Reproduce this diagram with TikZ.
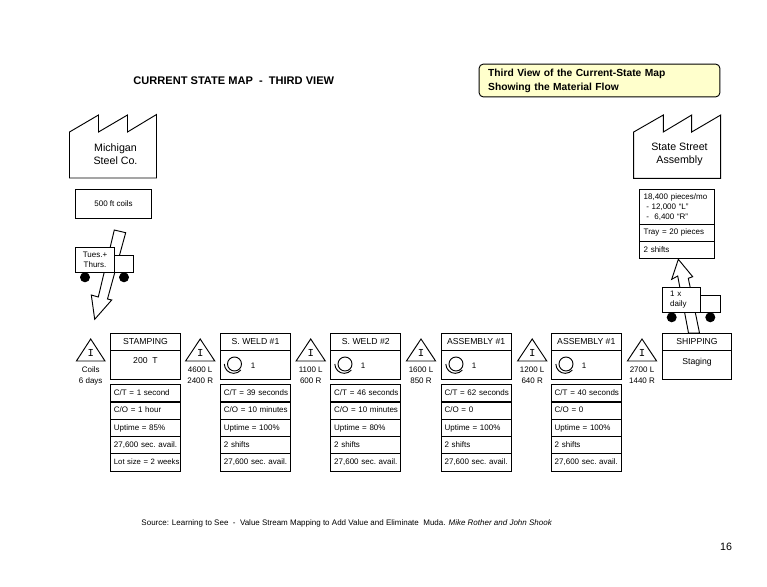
\documentclass[tikz,border=0pt]{standalone}
\usepackage{fontspec}
\setmainfont{Liberation Sans}
\setmonofont{Liberation Mono}
\definecolor{noteyellow}{RGB}{255,255,204}
\usetikzlibrary{positioning}
\tikzstyle{headbox} = [draw, minimum width=52.5pt, minimum height=12.5pt, inner sep=0pt, text height=4.6pt, text depth=1pt, font=\fontsize{6.5}{7.5}\selectfont]
\tikzstyle{bodybox} = [draw, minimum width=52.5pt, minimum height=21.7pt, inner sep=0pt]
\tikzstyle{databox} = [draw, minimum width=52.5pt, minimum height=13pt, inner sep=0pt, text width=52pt, text height=4.4pt, text depth=1.2pt, align=left, execute at begin node=\hspace*{2.3pt}, font=\frenchspacing\fontsize{6}{7}\selectfont]
\tikzstyle{custbox} = [draw, minimum width=56.5pt, inner sep=0pt, text width=50pt, align=left, font=\fontsize{6}{7.5}\selectfont]
\tikzstyle{tag} = [inner sep=0pt, align=center, font=\fontsize{6}{8.2}\selectfont]
\tikzstyle{plant} = [inner sep=0pt, align=center, font=\fontsize{8}{9.8}\selectfont]
\tikzstyle{kanban} = [inner sep=0pt, font=\ttfamily\fontsize{8}{8}\selectfont]
\tikzstyle{opmark} = [draw, circle, minimum size=10.5pt, inner sep=0pt]
\tikzstyle{lorry} = [draw, fill=white, inner sep=0pt]
\begin{document}
\begin{tikzpicture}[x=0.75pt,y=-0.75pt,line width=0.7pt]
  \useasboundingbox (0,0) rectangle (767,586);
  % headings
  \node[inner sep=0pt,anchor=west,font=\bfseries\fontsize{8.3}{10}\selectfont] (maptitle) at (133,81) {CURRENT STATE MAP\ \ -\ \ THIRD VIEW};
  \node[draw,fill=noteyellow,rounded corners=3pt,minimum width=180.5pt,minimum height=24.5pt,inner sep=0pt,text width=167pt,align=left,font=\bfseries\fontsize{7.7}{10.5}\selectfont] (note) at (599.5,80.5) {Third View of the Current-State Map\\Showing the Material Flow};
  % factories
  \draw (69.5,132) -- (98.5,115) -- (98.5,132) -- (127.5,115) -- (127.5,132) -- (156.5,114.5) -- (156.5,178) -- (69.5,178) -- cycle;
  \node[plant] (supplier) at (115.5,154.5) {Michigan\\Steel Co.};
  \draw (633.7,132) -- (663.3,115) -- (663.3,132) -- (691.7,115) -- (691.7,132) -- (720.7,115) -- (720.7,178.3) -- (633.7,178.3) -- cycle;
  \node[plant] (customer) at (679.5,154.5) {State Street\\Assembly};
  % supplier and customer data
  \node[draw,minimum width=57pt,minimum height=21.5pt,inner sep=0pt,font=\fontsize{6}{7}\selectfont] (coils) at (113.5,203.7) {500 ft coils};
  \node[custbox,minimum height=26.25pt] (demand) at (677,206.8) {18,400 pieces/mo\\ \ - 12,000 ``L''\\ \ -\ \ 6,400 ``R''};
  \node[custbox,minimum height=12.5pt] (tray) at (677,232.7) {Tray = 20 pieces};
  \node[custbox,minimum height=13pt] (custshift) at (677,249.7) {2 shifts};
  % material flow arrows
  \draw (114.3,230) -- (125.7,232.7) -- (107.5,299) -- (111.7,300) -- (94.7,319.3) -- (91.3,295) -- (98.3,297) -- cycle;
  \draw (699.5,333) -- (688.5,333) -- (677.7,276) -- (671.7,279.3) -- (678.3,259.3) -- (692.7,276.7) -- (688.3,278.3) -- cycle;
  % trucks
  \node[lorry,minimum width=14pt,minimum height=12.75pt] (inbed) at (124,263.8) {};
  \node[lorry,minimum width=29.5pt,minimum height=18.75pt,align=center,font=\fontsize{6}{7.5}\selectfont] (incab) at (95,259.8) {Tues.+\\Thurs.};
  \fill (85,277.3) circle(3.75pt);
  \fill (124,277.3) circle(3.75pt);
  \node[lorry,minimum width=15pt,minimum height=12.75pt] (outbed) at (710.7,303.8) {};
  \node[lorry,minimum width=28.8pt,minimum height=18.75pt,text width=17pt,align=left,font=\fontsize{6}{7.5}\selectfont] (outcab) at (681.5,299.8) {1 x\\daily};
  \fill (671.7,317.3) circle(3.75pt);
  \fill (710.3,317.3) circle(3.75pt);
  % inventory triangles
  \draw (90.7,339) -- (105,361) -- (76.4,361) -- cycle;
  \node[kanban] (inv1) at (90.7,353) {I};
  \node[tag] (stock1) at (90.7,375.5) {Coils\\6 days};
  \draw (200.2,339) -- (214.8,361) -- (185.6,361) -- cycle;
  \node[kanban] (inv2) at (200.2,353) {I};
  \node[tag] (stock2) at (200.2,375.5) {4600 L\\2400 R};
  \draw (310.7,339) -- (325.3,361) -- (296.1,361) -- cycle;
  \node[kanban] (inv3) at (310.7,353) {I};
  \node[tag] (stock3) at (310.7,375.5) {1100 L\\600 R};
  \draw (421,339) -- (435.6,361) -- (406.4,361) -- cycle;
  \node[kanban] (inv4) at (421,353) {I};
  \node[tag] (stock4) at (421,375.5) {1600 L\\850 R};
  \draw (532.2,339) -- (546.8,361) -- (517.6,361) -- cycle;
  \node[kanban] (inv5) at (532.2,353) {I};
  \node[tag] (stock5) at (532.2,375.5) {1200 L\\640 R};
  \draw (642,339) -- (656.6,361) -- (627.4,361) -- cycle;
  \node[kanban] (inv6) at (642,353) {I};
  \node[tag] (stock6) at (642,375.5) {2700 L\\1440 R};
  % stamping
  \node[headbox] (stamp) at (145.5,342) {STAMPING};
  \node[bodybox] (stampbody) at (145.5,364.8) {};
  \node[inner sep=0pt,font=\fontsize{6.5}{7.5}\selectfont] (press) at (145.5,361) {200\ \ T};
  \node[databox] (stampa) at (145.5,393.3) {C/T = 1 second};
  \node[databox] (stampb) at (145.5,410.6) {C/O = 1 hour};
  \node[databox] (stampc) at (145.5,427.9) {Uptime = 85\%};
  \node[databox] (stampd) at (145.5,445.2) {27,600 sec. avail.};
  \node[databox,font=\frenchspacing\fontsize{5.8}{7}\selectfont] (stampe) at (145.5,462.5) {Lot size = 2 weeks};
  % s. weld 1
  \node[headbox] (weldone) at (255.5,342) {S. WELD \#1};
  \node[bodybox] (weldonebody) at (255.5,364.8) {};
  \node[opmark] (opone) at (234.5,364) {};
  \draw ([xshift=-2pt]opone.west) arc[start angle=180,end angle=320,radius=7pt];
  \node[tag] (crewone) at (253,366) {1};
  \node[databox] (weldonea) at (255.5,393.3) {C/T = 39 seconds};
  \node[databox] (weldoneb) at (255.5,410.6) {C/O = 10 minutes};
  \node[databox] (weldonec) at (255.5,427.9) {Uptime = 100\%};
  \node[databox] (weldoned) at (255.5,445.2) {2 shifts};
  \node[databox] (weldonee) at (255.5,462.5) {27,600 sec. avail.};
  % s. weld 2
  \node[headbox] (weldtwo) at (365.8,342) {S. WELD \#2};
  \node[bodybox] (weldtwobody) at (365.8,364.8) {};
  \node[opmark] (optwo) at (345,364) {};
  \draw ([xshift=-2pt]optwo.west) arc[start angle=180,end angle=320,radius=7pt];
  \node[tag] (crewtwo) at (363,366) {1};
  \node[databox] (weldtwoa) at (365.8,393.3) {C/T = 46 seconds};
  \node[databox] (weldtwob) at (365.8,410.6) {C/O = 10 minutes};
  \node[databox] (weldtwoc) at (365.8,427.9) {Uptime = 80\%};
  \node[databox] (weldtwod) at (365.8,445.2) {2 shifts};
  \node[databox] (weldtwoe) at (365.8,462.5) {27,600 sec. avail.};
  % assembly 1
  \node[headbox] (asmone) at (476.2,342) {ASSEMBLY \#1};
  \node[bodybox] (asmonebody) at (476.2,364.8) {};
  \node[opmark] (opthree) at (456,364) {};
  \draw ([xshift=-2pt]opthree.west) arc[start angle=180,end angle=320,radius=7pt];
  \node[tag] (crewthree) at (474,366) {1};
  \node[databox] (asmonea) at (476.2,393.3) {C/T = 62 seconds};
  \node[databox] (asmoneb) at (476.2,410.6) {C/O = 0};
  \node[databox] (asmonec) at (476.2,427.9) {Uptime = 100\%};
  \node[databox] (asmoned) at (476.2,445.2) {2 shifts};
  \node[databox] (asmonee) at (476.2,462.5) {27,600 sec. avail.};
  % assembly 1, second cell
  \node[headbox] (asmtwo) at (586.3,342) {ASSEMBLY \#1};
  \node[bodybox] (asmtwobody) at (586.3,364.8) {};
  \node[opmark] (opfour) at (566,364) {};
  \draw ([xshift=-2pt]opfour.west) arc[start angle=180,end angle=320,radius=7pt];
  \node[tag] (crewfour) at (584,366) {1};
  \node[databox] (asmtwoa) at (586.3,393.3) {C/T = 40 seconds};
  \node[databox] (asmtwob) at (586.3,410.6) {C/O = 0};
  \node[databox] (asmtwoc) at (586.3,427.9) {Uptime = 100\%};
  \node[databox] (asmtwod) at (586.3,445.2) {2 shifts};
  \node[databox] (asmtwoe) at (586.3,462.5) {27,600 sec. avail.};
  % shipping
  \node[headbox,minimum width=51.5pt] (ship) at (697,342) {SHIPPING};
  \node[bodybox,minimum width=51.5pt] (shipbody) at (697,364.8) {};
  \node[inner sep=0pt,font=\fontsize{6.5}{7.5}\selectfont] (staging) at (697,362) {Staging};
  % footer
  \node[inner sep=0pt,anchor=west,font=\fontsize{6}{7}\selectfont] (source) at (141,523) {Source: Learning to See\ \ -\ \ Value Stream Mapping to Add Value and Eliminate\ \ Muda. \textit{Mike Rother and John Shook}};
  \node[inner sep=0pt,font=\fontsize{8}{10}\selectfont] (pageno) at (726,547) {16};
\end{tikzpicture}
\end{document}
